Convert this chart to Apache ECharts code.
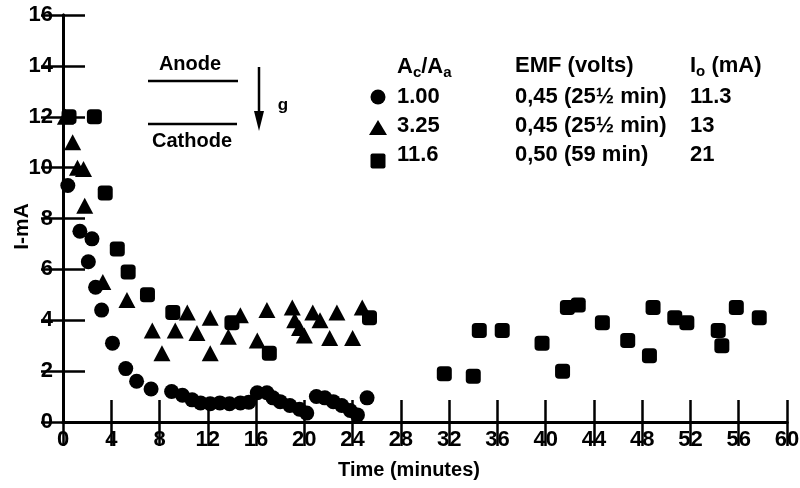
<!DOCTYPE html>
<html><head><meta charset="utf-8">
<script src="https://cdn.jsdelivr.net/npm/echarts@6/dist/echarts.min.js"></script>
<style>html,body{margin:0;padding:0;background:#fff}#c{width:800px;height:488px}</style>
</head><body><div id="c"></div>
<script>
// Ac/Aa = 1.00 (circles)
const circles = [[0.4,9.3],[1.4,7.5],[2.4,7.2],[2.1,6.3],[2.7,5.3],[3.2,4.4],[4.1,3.1],[5.2,2.1],[6.1,1.6],[7.3,1.3],[9.0,1.2],[9.9,1.05],[10.7,0.87],[11.4,0.75],[12.2,0.72],[13.0,0.75],[13.8,0.72],[14.7,0.75],[15.4,0.78],[16.1,1.15],[16.9,1.15],[17.4,0.95],[18.0,0.8],[18.8,0.65],[19.6,0.5],[20.2,0.35],[21.0,1.0],[21.7,0.95],[22.4,0.8],[23.1,0.65],[23.8,0.45],[24.4,0.28],[25.2,0.95]];
// Ac/Aa = 3.25 (triangles)
const triangles = [[0.2,12.0],[0.8,11.0],[1.2,10.0],[1.7,9.95],[1.8,8.5],[3.3,5.5],[5.3,4.8],[7.4,3.6],[8.2,2.7],[9.3,3.6],[10.3,4.3],[11.1,3.5],[12.2,4.1],[12.2,2.7],[13.7,3.35],[14.7,4.2],[16.1,3.2],[16.9,4.4],[19.0,4.5],[19.2,4.0],[19.6,3.7],[20.0,3.4],[20.7,4.3],[21.3,4.0],[22.1,3.3],[22.7,4.3],[24.0,3.3],[24.8,4.5]];
// Ac/Aa = 11.6 (squares)
const squares = [[0.5,12.0],[2.6,12.0],[3.5,9.0],[4.5,6.8],[5.4,5.9],[7.0,5.0],[9.1,4.3],[14.0,3.9],[17.1,2.7],[25.4,4.1],[31.6,1.9],[34.0,1.8],[34.5,3.6],[36.4,3.6],[39.7,3.1],[41.4,2.0],[41.8,4.5],[42.7,4.6],[44.7,3.9],[46.8,3.2],[48.6,2.6],[48.9,4.5],[50.7,4.1],[51.7,3.9],[54.3,3.6],[54.6,3.0],[55.8,4.5],[57.7,4.1]];
const ratioLabels = ['1.00','3.25','11.6'];
const emfLabels = ['0,45 (25½ min)','0,45 (25½ min)','0,50 (59 min)'];
const ioLabels = ['11.3','13','21'];

const F = 'Liberation Sans, Arial, sans-serif';
const chart = echarts.init(document.getElementById('c'));
const axisLine = {show:true, lineStyle:{color:'#000', width:3}};
const tick = (len)=>({show:true, inside:true, length:len, lineStyle:{color:'#000', width:2.5}});
const lbl = {color:'#000', fontSize:22, fontWeight:'bold', fontFamily:F};
const txt = (x,y,t,size,align)=>({type:'text', x:x, y:y, style:{text:t, fill:'#000', font:'bold '+(size||22)+'px '+F, textAlign:align||'left', textVerticalAlign:'middle'}});
const rowsY = [97,126,155];
const subRich = {s:{fontSize:15, fontWeight:'bold', fontFamily:F, fill:'#000', padding:[11,0,0,0]}};
const graphics = [
  txt(190,64,'Anode',20,'center'),
  {type:'line', shape:{x1:148,y1:81,x2:238,y2:81}, style:{stroke:'#000', lineWidth:2.5}},
  {type:'line', shape:{x1:148,y1:124,x2:237,y2:124}, style:{stroke:'#000', lineWidth:2.5}},
  txt(192,141,'Cathode',20,'center'),
  {type:'line', shape:{x1:259,y1:67,x2:259,y2:114}, style:{stroke:'#000', lineWidth:2.5}},
  {type:'polygon', shape:{points:[[254,111],[264,111],[259,131]]}, style:{fill:'#000'}},
  txt(283,105,'g',17,'center'),
  {type:'text', x:397, y:67, style:{text:'A{s|c}/A{s|a}', fill:'#000', font:'bold 22px '+F, textVerticalAlign:'middle', rich:subRich}},
  txt(515,66,'EMF (volts)',22),
  {type:'text', x:690, y:66, style:{text:'I{s|o} (mA)', fill:'#000', font:'bold 22px '+F, textVerticalAlign:'middle', rich:subRich}},
  {type:'circle', shape:{cx:378, cy:97, r:7.5}, style:{fill:'#000'}},
  {type:'polygon', shape:{points:[[369,135],[387,135],[378,120]]}, style:{fill:'#000'}},
  {type:'rect', shape:{x:370.5, y:153.5, width:15, height:15, r:2}, style:{fill:'#000'}}
];
for (let i=0;i<3;i++){
  graphics.push(txt(397,rowsY[i],ratioLabels[i],22));
  graphics.push(txt(515,rowsY[i],emfLabels[i],22));
  graphics.push(txt(690,rowsY[i],ioLabels[i],22));
}
chart.setOption({
  animation:false,
  backgroundColor:'#fff',
  grid:{left:63, right:13, top:15, bottom:66, containLabel:false, outerBoundsMode:'none'},
  xAxis:[
    {type:'value', min:0, max:60, interval:4, position:'bottom', axisLine:axisLine, axisTick:tick(22), splitLine:{show:false},
     axisLabel:Object.assign({margin:7}, lbl),
     name:'Time (minutes)', nameLocation:'middle', nameGap:38, nameMoveOverlap:false,
     nameTextStyle:{color:'#000', fontSize:20, fontWeight:'bold', fontFamily:F, padding:[0,32,0,0]}},
    {type:'value', min:0, max:60, interval:4, position:'top', axisLine:axisLine, axisTick:tick(24), splitLine:{show:false}, axisLabel:{show:false}}
  ],
  yAxis:[
    {type:'value', min:0, max:16, interval:2, position:'left', axisLine:axisLine, axisTick:tick(22), splitLine:{show:false},
     axisLabel:Object.assign({margin:10}, lbl),
     name:'I-mA', nameLocation:'middle', nameGap:30, nameRotate:90, nameMoveOverlap:false,
     nameTextStyle:{color:'#000', fontSize:21, fontWeight:'bold', fontFamily:F, padding:[0,16,0,0]}},
    {type:'value', min:0, max:16, interval:2, position:'right', axisLine:axisLine, axisTick:tick(22), splitLine:{show:false}, axisLabel:{show:false}}
  ],
  series:[
    {type:'scatter', name:'1.00', data:circles, symbol:'circle', symbolSize:15, itemStyle:{color:'#000', opacity:1}},
    {type:'scatter', name:'3.25', data:triangles, symbol:'triangle', symbolSize:[17,16], itemStyle:{color:'#000', opacity:1}},
    {type:'scatter', name:'11.6', data:squares, symbol:'roundRect', symbolSize:15, itemStyle:{color:'#000', opacity:1}}
  ],
  graphic:graphics
});
</script></body></html>
